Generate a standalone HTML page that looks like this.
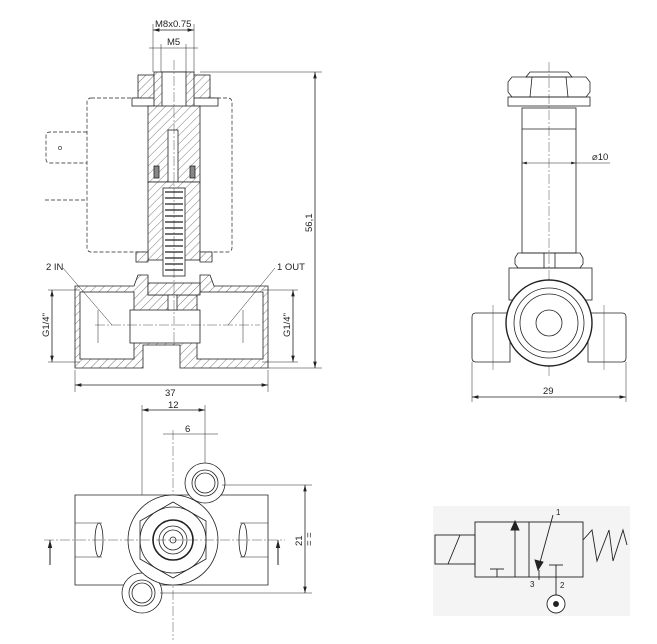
<!DOCTYPE html>
<html><head><meta charset="utf-8"><style>
html,body{margin:0;padding:0;background:#fff}
svg{display:block}
text{font-family:"Liberation Sans",sans-serif;font-size:9.5px;fill:#222}
</style></head><body>
<svg width="657" height="644" viewBox="0 0 657 644" xmlns="http://www.w3.org/2000/svg">
<defs>
<pattern id="h" width="6" height="6" patternUnits="userSpaceOnUse" patternTransform="rotate(45)">
<rect width="6" height="6" fill="#fff"/><line x1="0" y1="0" x2="0" y2="6" stroke="#444" stroke-width="0.7"/></pattern>
<marker id="a" markerWidth="8" markerHeight="6" refX="8" refY="3" orient="auto-start-reverse"><path d="M0,0.8 L8,3 L0,5.2z" fill="#222"/></marker>
</defs>
<g stroke="#222" stroke-width="0.8" fill="none">
<!-- ===== Section view ===== -->
<!-- dims top -->
<line x1="153" y1="30" x2="194" y2="30" marker-start="url(#a)" marker-end="url(#a)"/>
<line x1="153" y1="24" x2="153" y2="72" stroke-width="0.5"/><line x1="194" y1="24" x2="194" y2="72" stroke-width="0.5"/>
<line x1="149" y1="48" x2="198" y2="48" stroke-width="0.6"/>
<line x1="161" y1="44" x2="161" y2="72" stroke-width="0.5"/><line x1="186" y1="44" x2="186" y2="72" stroke-width="0.5"/>
<!-- coil dashed -->
<rect x="87" y="98" width="145" height="154" rx="4" stroke-dasharray="4,2" stroke-width="0.7"/>
<path d="M87,132 H50 Q46,132 46,136 V159 Q46,163 50,163 H87" stroke-dasharray="4,2" stroke-width="0.7"/>
<circle cx="60" cy="148" r="1.6" stroke-width="0.6"/>
<line x1="45" y1="200" x2="87" y2="200" stroke-dasharray="4,2" stroke-width="0.7"/>
<!-- nut + washer -->
<rect x="138" y="75" width="20" height="25" fill="url(#h)"/>
<rect x="190" y="75" width="20" height="25" fill="url(#h)"/>
<rect x="132" y="98" width="86" height="8" fill="#fff"/>
<rect x="154" y="72" width="40" height="36" fill="url(#h)"/>
<rect x="162" y="72" width="24" height="58" fill="#fff"/>
<!-- tube -->
<rect x="148" y="106" width="52" height="76" fill="url(#h)"/>
<rect x="168" y="130" width="10" height="52" fill="#fff"/>
<rect x="154" y="166" width="5" height="12" fill="#888"/><rect x="190" y="166" width="5" height="12" fill="#888"/>
<rect x="148" y="182" width="52" height="78" fill="url(#h)"/>
<rect x="163" y="188" width="22" height="88" fill="#fff"/>
<path d="M165,192 h18 M165,198 h18 M165,204 h18 M165,210 h18 M165,216 h18 M165,222 h18 M165,228 h18 M165,234 h18 M165,240 h18 M165,246 h18 M165,252 h18 M165,258 h18 M165,264 h18 M165,270 h18" stroke-width="1.2"/>
<!-- lower flange -->
<path d="M136,252 H148 V262 H136z M200,252 H212 V262 H200z" fill="url(#h)"/>
<!-- body -->
<path d="M75,286 H134 L138,275 H148 V295 H200 V275 H210 L214,286 H268 V368 H180 V345 H143 V368 H75z" fill="url(#h)"/>
<rect x="80" y="292" width="54" height="67" fill="#fff"/>
<rect x="197" y="292" width="66" height="67" fill="#fff"/>
<rect x="130" y="310" width="70" height="33" fill="#fff"/>
<rect x="148" y="283" width="52" height="12" fill="url(#h)"/>
<rect x="168" y="295" width="9" height="15" fill="#fff"/>
<line x1="98" y1="310" x2="98" y2="343" stroke-width="0.5"/><line x1="243" y1="310" x2="243" y2="343" stroke-width="0.5"/>
<line x1="174" y1="60" x2="174" y2="345" stroke-width="0.4" stroke-dasharray="10,2,2,2"/>
<line x1="95" y1="325" x2="260" y2="325" stroke-width="0.4" stroke-dasharray="10,2,2,2"/>
<!-- leaders -->
<line x1="63" y1="268" x2="112" y2="325" stroke-width="0.5"/>
<line x1="275" y1="268" x2="228" y2="325" stroke-width="0.5"/>
<!-- dims -->
<line x1="75" y1="370" x2="75" y2="392" stroke-width="0.5"/><line x1="268" y1="370" x2="268" y2="392" stroke-width="0.5"/>
<line x1="75" y1="385" x2="268" y2="385" marker-start="url(#a)" marker-end="url(#a)"/>
<line x1="200" y1="72" x2="322" y2="72" stroke-width="0.5"/><line x1="268" y1="368" x2="322" y2="368" stroke-width="0.5"/>
<line x1="315" y1="72" x2="315" y2="368" marker-start="url(#a)" marker-end="url(#a)"/>
<line x1="52" y1="290" x2="52" y2="362" marker-start="url(#a)" marker-end="url(#a)"/>
<line x1="48" y1="290" x2="80" y2="290" stroke-width="0.5"/><line x1="48" y1="362" x2="80" y2="362" stroke-width="0.5"/>
<line x1="293" y1="290" x2="293" y2="362" marker-start="url(#a)" marker-end="url(#a)"/>
<line x1="262" y1="290" x2="298" y2="290" stroke-width="0.5"/><line x1="262" y1="362" x2="298" y2="362" stroke-width="0.5"/>

<!-- ===== Side view ===== -->
<line x1="549" y1="62" x2="549" y2="378" stroke-width="0.4" stroke-dasharray="10,2,2,2"/>
<path d="M530,72 H568 L572,77 H526z"/>
<path d="M512,77 H586 L590,82 V92 L586,97 H512 L508,92 V82z"/>
<line x1="532" y1="77" x2="530" y2="97"/><line x1="566" y1="77" x2="568" y2="97"/>
<rect x="508" y="97" width="82" height="9"/>
<rect x="522" y="108" width="54" height="145"/>
<line x1="522" y1="129" x2="576" y2="129"/>
<line x1="522" y1="163" x2="576" y2="163" stroke-width="0.6" marker-start="url(#a)" marker-end="url(#a)"/>
<line x1="576" y1="163" x2="610" y2="163" stroke-width="0.5"/>
<path d="M518,253 H580 L583,258 V264 L580,268 H518 L515,264 V258z"/>
<line x1="544" y1="253" x2="544" y2="268"/><line x1="555" y1="253" x2="555" y2="268"/>
<rect x="509" y="268" width="83" height="32"/>
<path d="M472,317 Q472,313 476,313 H510 V362 H476 Q472,362 472,358z" fill="#fff"/>
<path d="M626,317 Q626,313 622,313 H588 V362 H622 Q626,362 626,358z" fill="#fff"/>
<circle cx="549" cy="323" r="43" fill="#fff" stroke-width="1.4"/>
<circle cx="549" cy="323" r="35"/><circle cx="549" cy="323" r="29"/><circle cx="549" cy="323" r="13"/>
<line x1="493" y1="305" x2="493" y2="370" stroke-width="0.4"/><line x1="604" y1="305" x2="604" y2="370" stroke-width="0.4"/>
<line x1="472" y1="362" x2="472" y2="402" stroke-width="0.5"/><line x1="626" y1="362" x2="626" y2="402" stroke-width="0.5"/>
<line x1="472" y1="397" x2="626" y2="397" marker-start="url(#a)" marker-end="url(#a)"/>

<!-- ===== Bottom view ===== -->
<line x1="142" y1="405" x2="142" y2="500" stroke-width="0.5"/><line x1="205" y1="405" x2="205" y2="470" stroke-width="0.5"/>
<line x1="142" y1="410" x2="205" y2="410" marker-start="url(#a)" marker-end="url(#a)"/>
<line x1="173" y1="430" x2="173" y2="640" stroke-width="0.4" stroke-dasharray="10,2,2,2"/>
<line x1="163" y1="434" x2="218" y2="434" stroke-width="0.6"/>
<path d="M75,495 H268 V585 H75z" fill="#fff"/>
<circle cx="205" cy="483" r="20" fill="#fff"/><circle cx="205" cy="483" r="13"/><circle cx="205" cy="483" r="10"/>
<circle cx="142" cy="593" r="20" fill="#fff"/><circle cx="142" cy="593" r="13"/><circle cx="142" cy="593" r="10"/>
<circle cx="173" cy="540" r="45" fill="#fff"/>
<path d="M173,502 L206,521 V559 L173,578 L140,559 V521z"/>
<circle cx="173" cy="540" r="33"/>
<circle cx="173" cy="540" r="20" stroke-width="1.6"/><circle cx="173" cy="540" r="14"/><circle cx="173" cy="540" r="10"/><circle cx="173" cy="540" r="3"/>
<line x1="75" y1="523" x2="102" y2="523" stroke-width="0.6"/><line x1="75" y1="557" x2="102" y2="557" stroke-width="0.6"/>
<ellipse cx="99" cy="540" rx="4" ry="17"/>
<line x1="240" y1="523" x2="268" y2="523" stroke-width="0.6"/><line x1="240" y1="557" x2="268" y2="557" stroke-width="0.6"/>
<ellipse cx="243" cy="540" rx="4" ry="17"/>
<line x1="44" y1="540" x2="285" y2="540" stroke-width="0.4" stroke-dasharray="10,2,2,2"/>
<line x1="50" y1="565" x2="50" y2="540" marker-end="url(#a)" stroke-width="1"/>
<line x1="278" y1="565" x2="278" y2="540" marker-end="url(#a)" stroke-width="1"/>
<line x1="222" y1="485" x2="312" y2="485" stroke-width="0.5"/><line x1="160" y1="593" x2="312" y2="593" stroke-width="0.5"/>
<line x1="305" y1="485" x2="305" y2="593" marker-start="url(#a)" marker-end="url(#a)"/>
</g>
<rect x="433" y="506" width="197" height="110" fill="#f4f4f4"/>
<g stroke="#222" stroke-width="0.9" fill="none">
<rect x="475" y="522" width="108" height="55"/>
<line x1="529" y1="522" x2="529" y2="577"/>
<rect x="435" y="535" width="40" height="29"/>
<line x1="448" y1="564" x2="460" y2="535"/>
<line x1="515" y1="577" x2="515" y2="526"/><path d="M515,521 L511,530 H519z" fill="#222"/>
<line x1="497" y1="569" x2="497" y2="577"/><line x1="490" y1="569" x2="504" y2="569"/>
<line x1="553" y1="515" x2="539" y2="566"/><path d="M538,570 L535,560 L543,562z" fill="#222"/>
<line x1="539" y1="570" x2="539" y2="580"/>
<line x1="556" y1="565" x2="556" y2="595"/><line x1="549" y1="565" x2="563" y2="565"/>
<circle cx="556" cy="604" r="9" fill="#fff"/><circle cx="556" cy="604" r="2.5" fill="#222"/>
<polyline points="583,540 592,530 597,561 609,530 613,561 623,530 627,545"/>
</g>
<g>
<text x="155" y="27">M8x0.75</text>
<text x="167" y="45">M5</text>
<text x="46" y="270">2 IN</text>
<text x="277" y="270">1 OUT</text>
<text x="165" y="396">37</text>
<text transform="translate(312,232) rotate(-90)">56,1</text>
<text transform="translate(49,337) rotate(-90)">G1/4"</text>
<text transform="translate(290,337) rotate(-90)">G1/4"</text>
<text x="592" y="160">⌀10</text>
<text x="543" y="394">29</text>
<text x="168" y="408">12</text>
<text x="185" y="432">6</text>
<text transform="translate(302,546) rotate(-90)">21</text>
<text transform="translate(312,546) rotate(-90)">= =</text>
<text x="556" y="515" style="font-size:8px">1</text>
<text x="530" y="587" style="font-size:8px">3</text>
<text x="560" y="588" style="font-size:8px">2</text>
</g>
</svg>
</body></html>
